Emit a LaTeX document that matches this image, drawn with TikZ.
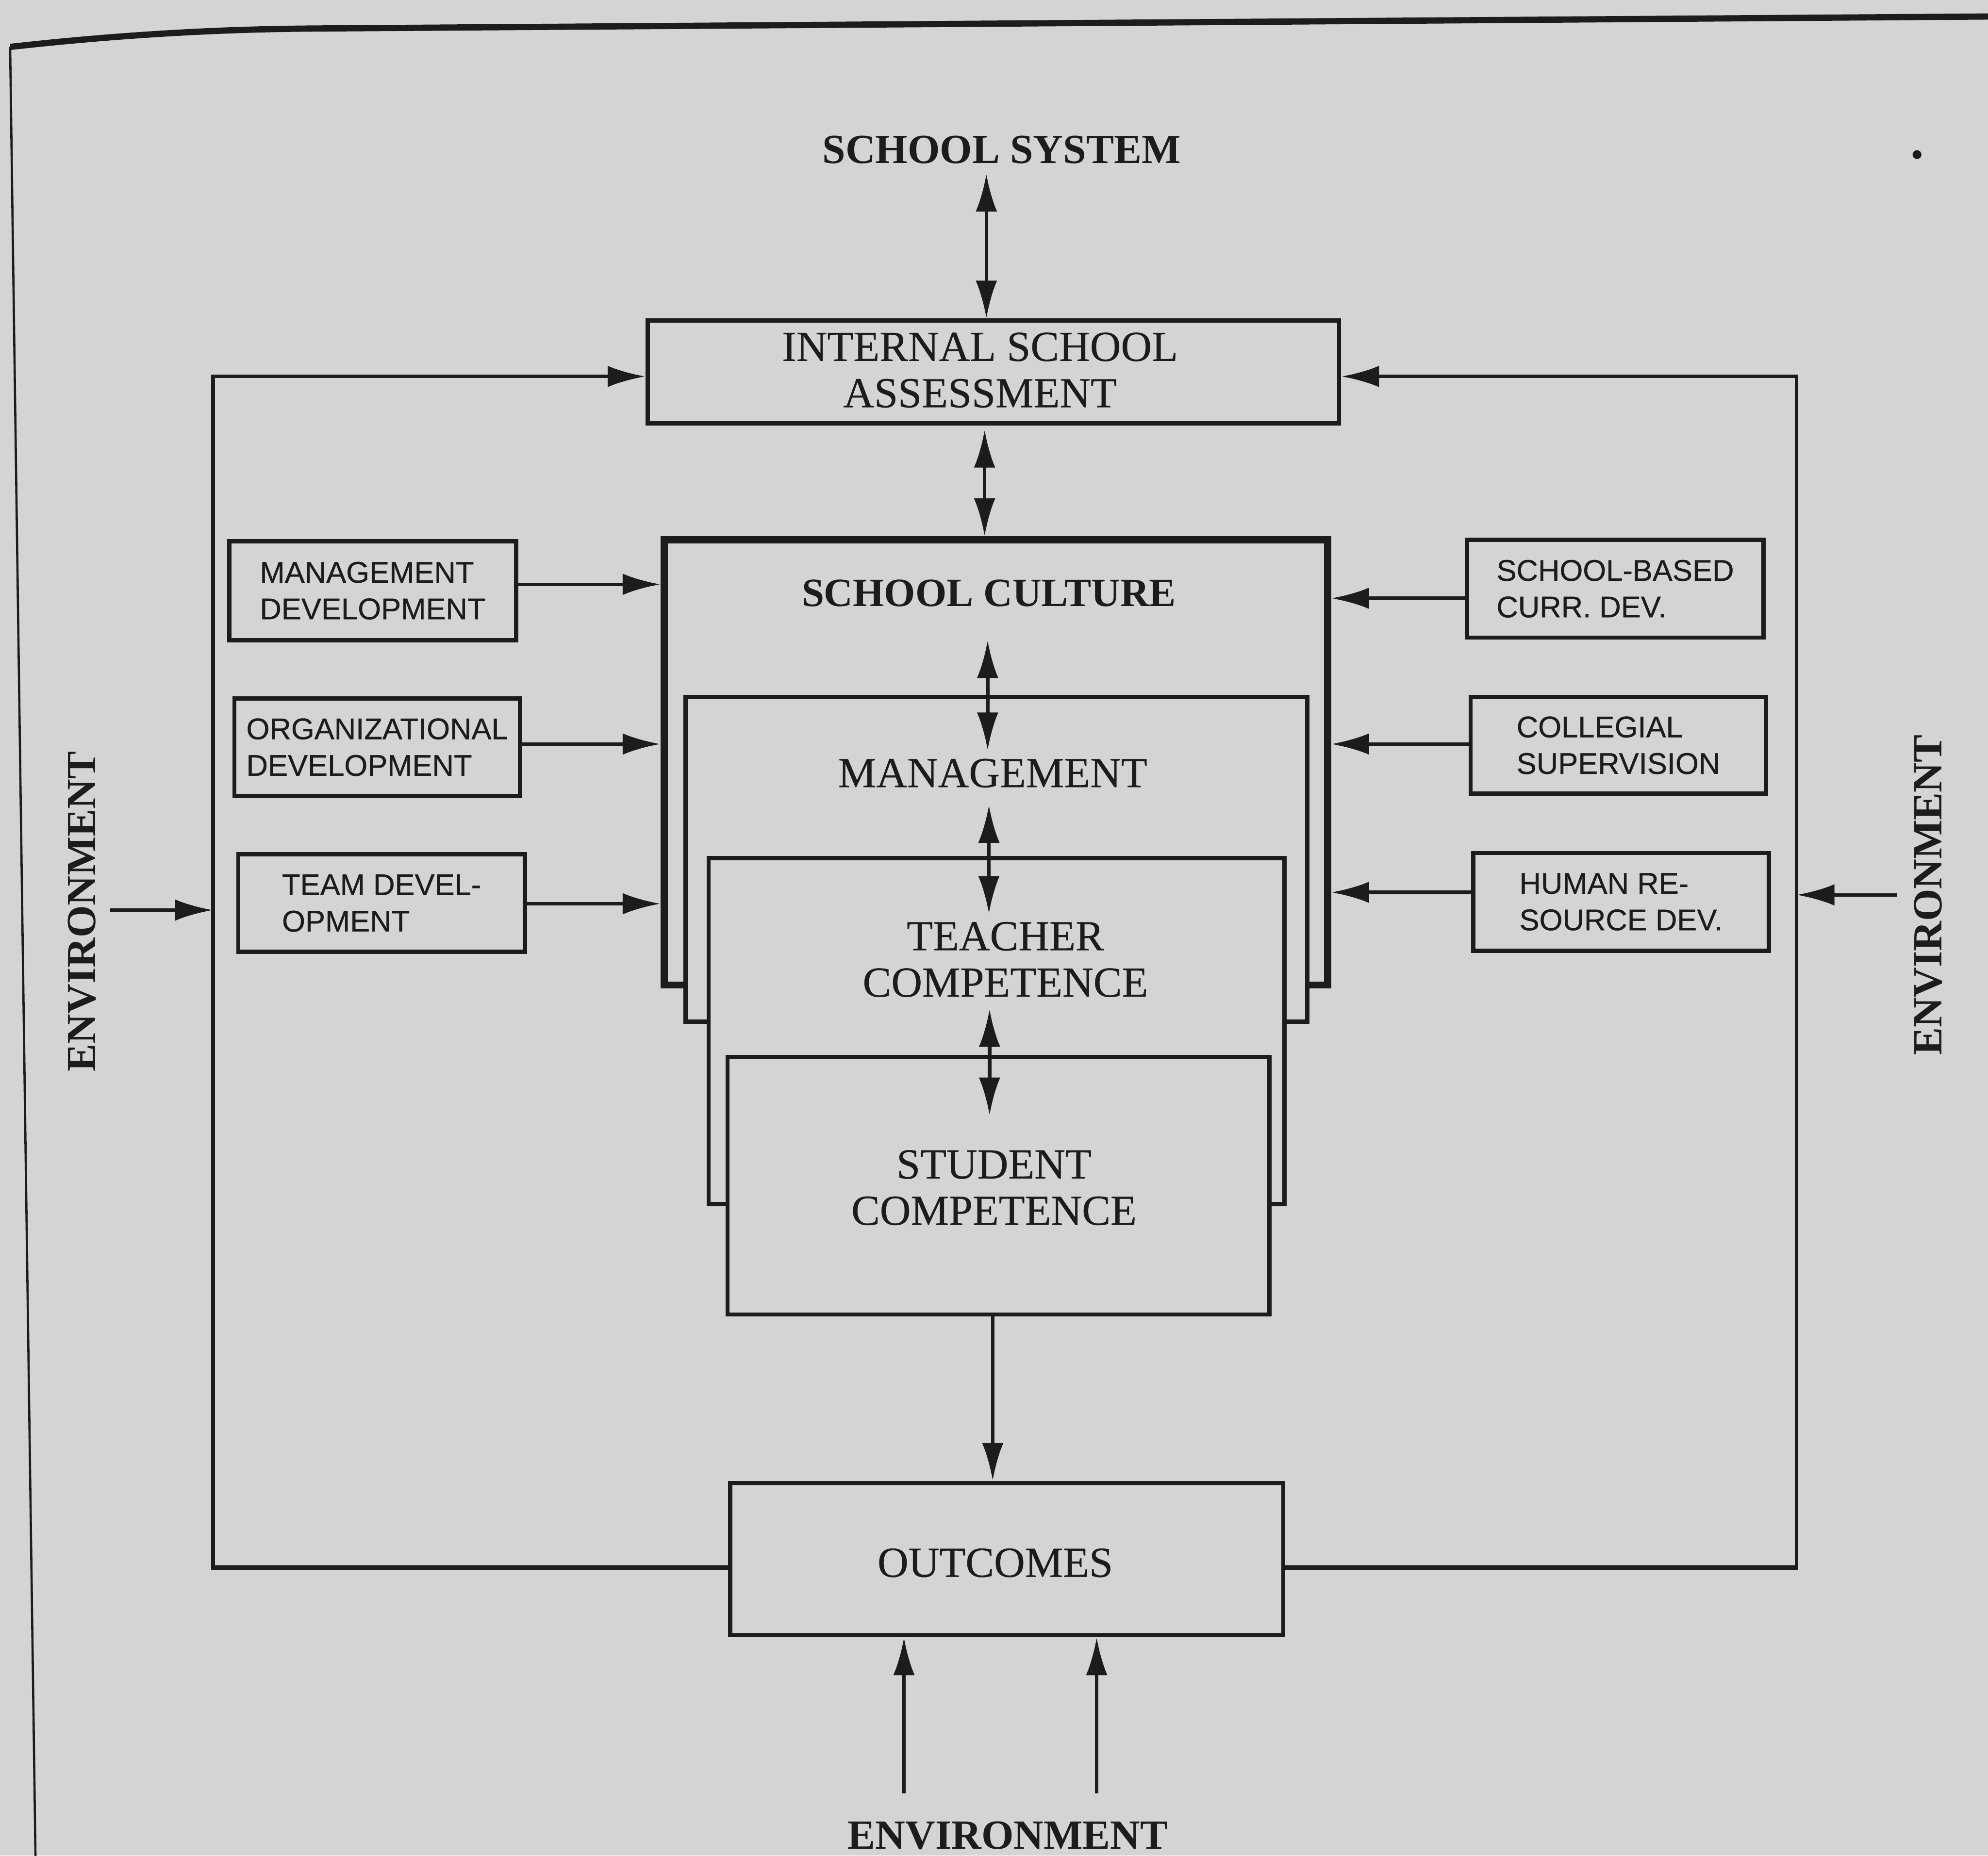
\documentclass[tikz,border=0pt]{standalone}
\usepackage{fontspec}
\setmainfont{Liberation Serif}
\newfontfamily\boxfont[FakeBold=0.6]{Liberation Sans}
\newfontfamily\inkserif[FakeBold=0.4]{Liberation Serif}
\usetikzlibrary{arrows.meta,calc}
\definecolor{paper}{RGB}{212,212,214}
\definecolor{ink}{RGB}{28,28,28}

\begin{document}
\begin{tikzpicture}[x=0.01cm,y=-0.01cm,
  every node/.style={text=ink},
  box/.style={draw=ink, fill=paper, line width=0.95pt, inner sep=0pt},
  sidebox/.style={box, font=\boxfont\fontsize{6.7}{8.2}\selectfont, align=left},
  heading/.style={font=\fontsize{9.3}{11}\selectfont\bfseries, inner sep=0pt},
  boxtext/.style={font=\inkserif\fontsize{9.6}{10.4}\selectfont, align=center, inner sep=0pt},
  conn/.style={draw=ink, line width=0.8pt},
  tip/.tip={Latex[length=8.5pt,width=4.8pt]},
  arr/.style={conn, -tip},
  darr/.style={conn, tip-tip},
]
% page and its frame
\fill[paper] (0,0) rectangle (1568,1464);
\useasboundingbox (0,0) rectangle (1568,1464);
\draw[ink, line width=1.4pt] (8,37) .. controls (80,29) and (160,23) .. (250,22.5) -- (1572,13);
\draw[ink, line width=0.5pt] (8,37) -- (28,1466);
\fill[ink] (1512,122) circle[radius=0.035cm];

% headings outside the loop
\node[heading] (sys) at (790,118) {SCHOOL SYSTEM};
\node[heading, rotate=90] (envL) at (64.5,719) {ENVIRONMENT};
\node[heading, rotate=90] (envR) at (1521,706) {ENVIRONMENT};
\node[heading] (envB) at (795,1448) {ENVIRONMENT};

% assessment and outcomes
\node[box, minimum width=5.45cm, minimum height=0.81cm] (assess) at (783.5,293.5) {};
\node[boxtext] (assesstxt) at (773,292) {INTERNAL SCHOOL\\ASSESSMENT};
\node[box, minimum width=4.36cm, minimum height=1.2cm] (outcomes) at (794,1230) {};
\node[boxtext] (outcomestxt) at (785,1233) {OUTCOMES};

% stacked core boxes, back to front
\node[box, line width=1.6pt, minimum width=5.23cm, minimum height=3.51cm] (culture) at (785.5,601.5) {};
\node[box, minimum width=4.9cm, minimum height=2.56cm] (mgmt) at (786,678) {};
\node[box, minimum width=4.54cm, minimum height=2.73cm] (teacher) at (786,813.5) {};
\node[box, minimum width=4.27cm, minimum height=2.03cm] (student) at (787.5,935.5) {};
\node[heading, font=\fontsize{9.0}{11}\selectfont\bfseries] (culturetxt) at (780,468) {SCHOOL CULTURE};
\node[boxtext] (mgmttxt) at (783,610) {MANAGEMENT};
\node[boxtext] (teachertxt) at (793,757) {TEACHER\\COMPETENCE};
\node[boxtext] (studenttxt) at (784,937) {STUDENT\\COMPETENCE};

% development boxes on the left
\node[sidebox, minimum width=2.26cm, minimum height=0.78cm] (md) at (294,466) {MANAGEMENT\\DEVELOPMENT};
\node[sidebox, minimum width=2.25cm, minimum height=0.77cm] (od) at (297.5,589.5) {ORGANIZATIONAL\\DEVELOPMENT};
\node[sidebox, minimum width=2.26cm, minimum height=0.77cm] (td) at (301,712.5) {TEAM DEVEL-\\OPMENT};

% development boxes on the right
\node[sidebox, minimum width=2.34cm, minimum height=0.77cm] (sb) at (1274,464.5) {SCHOOL-BASED\\CURR. DEV.};
\node[sidebox, minimum width=2.33cm, minimum height=0.76cm] (cs) at (1276.5,588) {COLLEGIAL\\SUPERVISION};
\node[sidebox, minimum width=2.33cm, minimum height=0.77cm] (hr) at (1278.5,711.5) {HUMAN RE-\\SOURCE DEV.};

% guide coordinates for the connectors
\coordinate (xsys) at (778,0);
\coordinate (xac) at (776.6,0);
\coordinate (xso) at (783,0);
\coordinate (cm1) at (779,505);
\coordinate (cm2) at (779,592);
\coordinate (mt1) at (780,635);
\coordinate (mt2) at (780,721);
\coordinate (ts1) at (780.5,796);
\coordinate (ts2) at (780.5,880);
\coordinate (acTop) at (776.6,339);
\coordinate (sysEnd) at (778,137);
\coordinate (lb) at (168,1237);
\coordinate (lt) at (168,297);
\coordinate (rb) at (1417,1237);
\coordinate (rt) at (1417,297);
\coordinate (eL) at (87,718);
\coordinate (eR) at (1496,706);
\coordinate (eB1) at (713,1415);
\coordinate (eB2) at (865,1415);
\coordinate (yl1) at (0,461);
\coordinate (yl2) at (0,587);
\coordinate (yl3) at (0,713);
\coordinate (yr1) at (0,472);
\coordinate (yr2) at (0,587);
\coordinate (yr3) at (0,704);

% central column
\draw[darr] (sysEnd) -- (assess.north -| xsys);
\draw[darr] (acTop) -- (culture.north -| xac);
\draw[darr] (cm1) -- (cm2);
\draw[darr] (mt1) -- (mt2);
\draw[darr] (ts1) -- (ts2);
\draw[arr] (student.south -| xso) -- (outcomes.north -| xso);

% feedback loop from outcomes to assessment
\draw[conn, line width=1.1pt] (outcomes.west |- lb) -- (lb);
\draw[conn, line width=1.1pt] (outcomes.east |- rb) -- (rb);
\draw[arr, line cap=rect] (lb) -- (lt) -- (assess.west |- lt);
\draw[arr, line cap=rect] (rb) -- (rt) -- (assess.east |- rt);

% environment inputs
\draw[arr] (eL) -- (eL -| lt);
\draw[arr] (eR) -- (eR -| rt);
\draw[arr] (eB1) -- (eB1 |- outcomes.south);
\draw[arr] (eB2) -- (eB2 |- outcomes.south);

% development inputs into the school culture
\draw[arr] (md.east |- yl1) -- (culture.west |- yl1);
\draw[arr] (od.east |- yl2) -- (culture.west |- yl2);
\draw[arr] (td.east |- yl3) -- (culture.west |- yl3);
\draw[arr] (sb.west |- yr1) -- (culture.east |- yr1);
\draw[arr] (cs.west |- yr2) -- (culture.east |- yr2);
\draw[arr] (hr.west |- yr3) -- (culture.east |- yr3);
\end{tikzpicture}
\end{document}
